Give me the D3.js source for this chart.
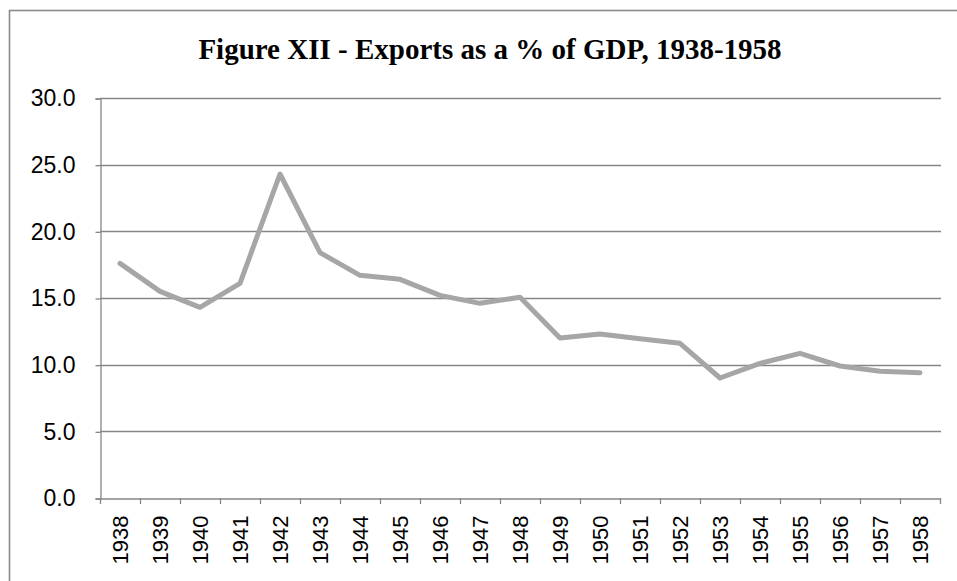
<!DOCTYPE html>
<html><head><meta charset="utf-8">
<script src="https://cdn.jsdelivr.net/npm/d3@7"></script>
<style>body{margin:0;background:#fff}svg{display:block}</style>
</head><body>
<script>
const years = ["1938","1939","1940","1941","1942","1943","1944","1945","1946","1947","1948","1949","1950","1951","1952","1953","1954","1955","1956","1957","1958"];
const exportsPct = [17.6,15.5,14.3,16.1,24.3,18.4,16.7,16.4,15.2,14.6,15.05,12.0,12.3,11.95,11.6,9.0,10.1,10.85,9.9,9.5,9.4];
const yTicks = [0,5,10,15,20,25,30];
const title = "Figure XII - Exports as a % of GDP, 1938-1958";

const W = 957, H = 581;
const svg = d3.select("body").append("svg").attr("width", W).attr("height", H);
svg.append("rect").attr("x",9.5).attr("y",10.5).attr("width",1000).attr("height",620)
  .attr("fill","#fff").attr("stroke","#8a8a8a").attr("stroke-width",1.6);

const mLeft = 100, mRight = 940, mTop = 98, mBottom = 498;
const x = d3.scaleBand().domain(years).range([mLeft, mRight]);
const y = d3.scaleLinear().domain([0,30]).range([mBottom, mTop]);

svg.append("text").attr("x", 490).attr("y", 58.5).attr("text-anchor","middle")
  .attr("font-family","'Liberation Serif','Times New Roman',serif").attr("font-weight","bold")
  .attr("font-size",29).text(title);

// grid
svg.append("g").selectAll("line").data(yTicks.filter(d=>d>0)).join("line")
  .attr("x1", mLeft).attr("x2", mRight+1).attr("y1", d=>Math.round(y(d))+0.5).attr("y2", d=>Math.round(y(d))+0.5)
  .attr("stroke","#868686").attr("stroke-width",1.3);

// y axis
const ya = svg.append("g").attr("transform",`translate(${mLeft+0.5},0.5)`)
  .call(d3.axisLeft(y).tickValues(yTicks).tickSize(5).tickPadding(20).tickFormat(d3.format(".1f")));
ya.selectAll("path,line").attr("stroke","#868686").attr("stroke-width",1.3);
ya.selectAll("text").attr("font-family","'Liberation Sans',Arial,sans-serif").attr("font-size",23).attr("fill","#000");

// x axis
const xa = svg.append("g").attr("transform",`translate(0.5,${mBottom+0.5})`)
  .call(d3.axisBottom(x).tickSize(0).tickPadding(0));
xa.select(".domain").attr("stroke","#868686").attr("stroke-width",1.3);
xa.selectAll(".tick line").remove();
xa.selectAll(".tick text").attr("font-family","'Liberation Sans',Arial,sans-serif").attr("font-size",22).attr("fill","#000")
  .attr("transform","rotate(-90)").attr("text-anchor","end").attr("x",-17).attr("y",0).attr("dy","0.36em");
const bounds = years.map(d=>x(d)).concat([mRight]);
svg.append("g").selectAll("line").data(bounds).join("line")
  .attr("x1",d=>Math.round(d)+0.5).attr("x2",d=>Math.round(d)+0.5).attr("y1",mBottom).attr("y2",mBottom+6)
  .attr("stroke","#868686").attr("stroke-width",1.3);

// line
const line = d3.line().x((d,i)=>x(years[i])+x.bandwidth()/2).y(d=>y(d));
svg.append("path").datum(exportsPct).attr("d",line).attr("fill","none")
  .attr("stroke","#a6a6a6").attr("stroke-width",5).attr("stroke-linejoin","round").attr("stroke-linecap","round");
</script>
</body></html>
